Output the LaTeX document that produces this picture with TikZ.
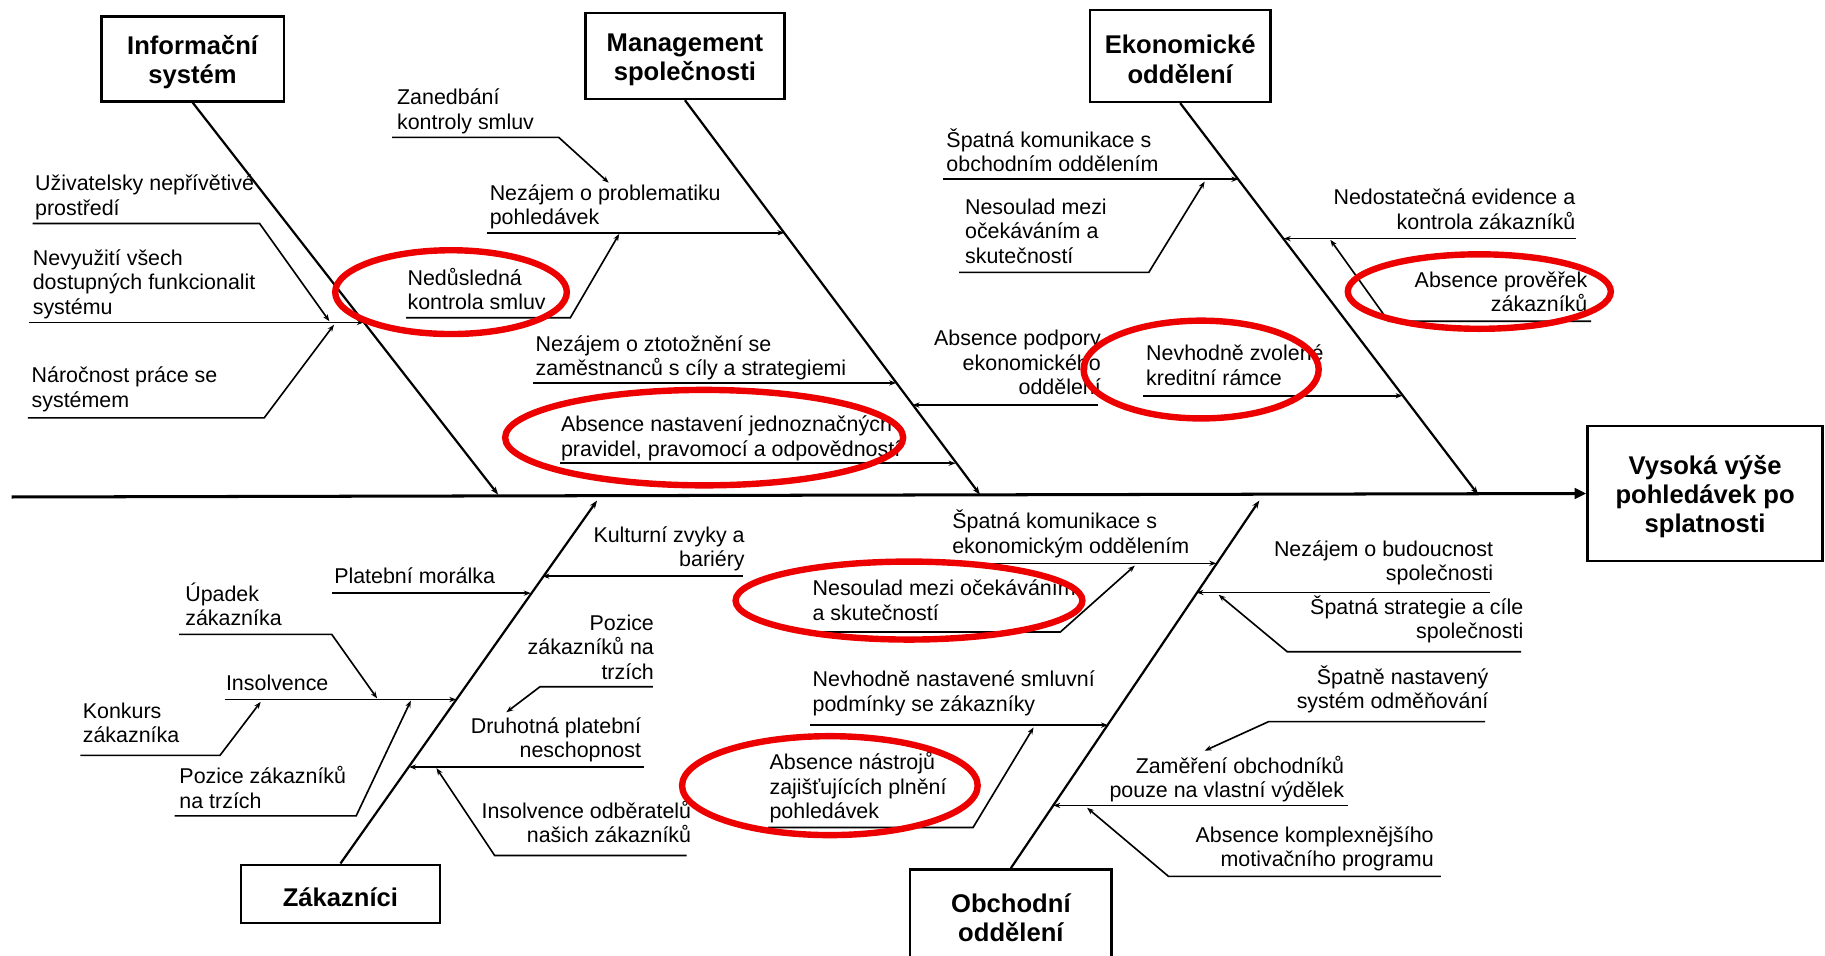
\documentclass[tikz,border=0pt]{standalone}
\usepackage{fontspec}
\setmainfont{Liberation Sans}
\usetikzlibrary{arrows.meta,calc}
\definecolor{hred}{RGB}{236,0,0}
% taller first line so box titles sit a little lower
\newcommand\catstrut{\rule{0pt}{22pt}}

\begin{document}
\begin{tikzpicture}[x=1pt,y=-1pt,
  cause/.style={font=\fontsize{18.4}{21}\selectfont, inner sep=0pt, align=left},
  causeL/.style={cause, anchor=base west},
  causeR/.style={cause, align=right, anchor=base east},
  catbox/.style={draw, line width=2.2pt, font=\fontsize{22}{25}\selectfont\bfseries,
                 align=center, inner sep=0pt},
  bone/.style={line width=1.9pt, -{Stealth[length=7pt,width=5pt]}},
  twig/.style={line width=1.4pt, -{Stealth[length=6pt,width=4.5pt]}},
  hilite/.style={draw=hred, line width=5.5pt}
]
\useasboundingbox (0,0) rectangle (1568,821);
\clip (0,0) rectangle (1568,821);
\fill[white] (0,0) rectangle (1568,821);

% ---------- category boxes and the effect ----------
\node[catbox, minimum width=157pt, minimum height=73pt] (info) at (165.5,50.5) {\catstrut Informační\\systém};
\node[catbox, minimum width=171pt, minimum height=74pt] (mgmt) at (588.5,48) {\catstrut Management\\společnosti};
\node[catbox, minimum width=155pt, minimum height=79pt] (eko)  at (1014,48) {\catstrut Ekonomické\\oddělení};
\node[catbox, minimum width=171pt, minimum height=50pt] (zak)  at (292.5,768) {\catstrut Zákazníci};
\node[catbox, minimum width=173pt, minimum height=77pt] (obch) at (868.5,785.5) {\catstrut Obchodní\\oddělení};
\node[catbox, minimum width=202pt, minimum height=116pt] (effect) at (1465,424) {\catstrut Vysoká výše\\pohledávek po\\splatnosti};

% ---------- spine and main bones ----------
\coordinate (spineStart) at (10,427);
\draw[line width=2.6pt, -{Triangle[length=10pt,width=9pt]}] (spineStart) -- (effect.west);

\coordinate (infoEnd) at (428,425);
\coordinate (mgmtEnd) at (842,425);
\coordinate (ekoEnd)  at (1270,425);
\coordinate (zakEnd)  at (513,430);
\coordinate (obchEnd) at (1082,430);
\draw[bone] (info.south) -- (infoEnd);
\draw[bone] (mgmt.south) -- (mgmtEnd);
\draw[bone] (eko.south)  -- (ekoEnd);
\draw[bone] (zak.north)  -- (zakEnd);
\draw[bone] (obch.north) -- (obchEnd);

% ---------- Informační systém ----------
\node[causeL] (c1) at (30,185) {Uživatelsky nepřívětivé\\prostředí};
\coordinate (c1s) at (28,192); \coordinate (c1e) at (283,276);
\draw[twig] (c1s) -- (223,192) -- (c1e);

\node[causeL] (c2) at (28,270) {Nevyužití všech\\dostupných funkcionalit\\systému};
\coordinate (c2s) at (25,277); \coordinate (c2e) at (312.6,277);
\draw[twig] (c2s) -- (c2e);

\node[causeL] (c3) at (27,350) {Náročnost práce se\\systémem};
\coordinate (c3s) at (24,359); \coordinate (c3e) at (287,279);
\draw[twig] (c3s) -- (227,359) -- (c3e);

% ---------- Management společnosti ----------
\node[causeL] (c4) at (341,111) {Zanedbání\\kontroly smluv};
\coordinate (c4s) at (337,118); \coordinate (c4e) at (523,157);
\draw[twig] (c4s) -- (480,118) -- (c4e);

\node[causeL] (c5) at (420.6,193) {Nezájem o problematiku\\pohledávek};
\coordinate (c5s) at (418,200); \coordinate (c5e) at (674,200);
\draw[twig] (c5s) -- (c5e);

\node[causeL] (c6) at (350,266) {Nedůsledná\\kontrola smluv};
\coordinate (c6s) at (349,273); \coordinate (c6e) at (532,201);
\draw[twig] (c6s) -- (490,273) -- (c6e);

\node[causeL] (c7) at (460,323) {Nezájem o ztotožnění se\\zaměstnanců s cíly a strategiemi};
\coordinate (c7s) at (458,329); \coordinate (c7e) at (770,329);
\draw[twig] (c7s) -- (c7e);

\node[causeL] (c8) at (481.8,392) {Absence nastavení jednoznačných\\pravidel, pravomocí a odpovědností};
\coordinate (c8s) at (481,398); \coordinate (c8e) at (821,398);
\draw[twig] (c8s) -- (c8e);

% ---------- Ekonomické oddělení ----------
\node[causeL] (c9) at (813,147.5) {Špatná komunikace s\\obchodním oddělením};
\coordinate (c9s) at (810,154); \coordinate (c9e) at (1064,154);
\draw[twig] (c9s) -- (c9e);

\node[causeL] (c10) at (829,226) {Nesoulad mezi\\očekáváním a\\skutečností};
\coordinate (c10s) at (824,234); \coordinate (c10e) at (1035,156);
\draw[twig] (c10s) -- (987,234) -- (c10e);

\node[causeR] (c11) at (946,339) {Absence podpory\\ekonomického\\oddělení};
\coordinate (c11s) at (943,348); \coordinate (c11e) at (784,348);
\draw[twig] (c11s) -- (c11e);

\node[causeL] (c12) at (984.6,331) {Nevhodně zvolené\\kreditní rámce};
\coordinate (c12s) at (982,340); \coordinate (c12e) at (1205,340);
\draw[twig] (c12s) -- (c12e);

\node[causeR] (c13) at (1353.6,197) {Nedostatečná evidence a\\kontrola zákazníků};
\coordinate (c13s) at (1354,205); \coordinate (c13e) at (1103,205);
\draw[twig] (c13s) -- (c13e);

\node[causeR] (c14) at (1364,268) {Absence prověřek\\zákazníků};
\coordinate (c14s) at (1367,276); \coordinate (c14e) at (1143,206);
\draw[twig] (c14s) -- (1193,276) -- (c14e);

% ---------- Zákazníci ----------
\node[causeR] (c15) at (640,487) {Kulturní zvyky a\\bariéry};
\coordinate (c15s) at (638,495); \coordinate (c15e) at (466,495);
\draw[twig] (c15s) -- (c15e);

\node[causeL] (c16) at (287,501.5) {Platební morálka};
\coordinate (c16s) at (285,509.6); \coordinate (c16e) at (456,509.6);
\draw[twig] (c16s) -- (c16e);

\node[causeL] (c17) at (159,537.5) {Úpadek\\zákazníka};
\coordinate (c17s) at (154,545); \coordinate (c17e) at (324,600);
\draw[twig] (c17s) -- (285,545) -- (c17e);

\node[causeL] (c18) at (194,593) {Insolvence};
\coordinate (c18s) at (193,601); \coordinate (c18e) at (392,601);
\draw[twig] (c18s) -- (c18e);

\node[causeL] (c19) at (71,638) {Konkurs\\zákazníka};
\coordinate (c19s) at (69,649); \coordinate (c19e) at (224,603);
\draw[twig] (c19s) -- (189,649) -- (c19e);

\node[causeL] (c20) at (154,694.5) {Pozice zákazníků\\na trzích};
\coordinate (c20s) at (150,701); \coordinate (c20e) at (353,602);
\draw[twig] (c20s) -- (306,701) -- (c20e);

\node[causeR] (c21) at (562,583.5) {Pozice\\zákazníků na\\trzích};
\coordinate (c21s) at (561,590); \coordinate (c21e) at (435,612);
\draw[twig] (c21s) -- (464,590) -- (c21e);

\node[causeR] (c22) at (551,651) {Druhotná platební\\neschopnost};
\coordinate (c22s) at (553,659); \coordinate (c22e) at (351.5,659);
\draw[twig] (c22s) -- (c22e);

\node[causeR] (c23) at (594,724) {Insolvence odběratelů\\našich zákazníků};
\coordinate (c23s) at (590,735); \coordinate (c23e) at (375,660);
\draw[twig] (c23s) -- (425,735) -- (c23e);

% ---------- Obchodní oddělení ----------
\node[causeL] (c24) at (818,475.5) {Špatná komunikace s\\ekonomickým oddělením};
\coordinate (c24s) at (812,484); \coordinate (c24e) at (1045,484);
\draw[twig] (c24s) -- (c24e);

\node[causeL] (c25) at (698,533) {Nesoulad mezi očekáváním\\a skutečností};
\coordinate (c25s) at (698,543); \coordinate (c25e) at (975,486);
\draw[twig] (c25s) -- (911,543) -- (c25e);

\node[causeL] (c26) at (698,611) {Nevhodně nastavené smluvní\\podmínky se zákazníky};
\coordinate (c26s) at (696,623); \coordinate (c26e) at (952,623);
\draw[twig] (c26s) -- (c26e);

\node[causeL] (c27) at (661,703.5) {Absence nástrojů\\zajišťujících plnění\\pohledávek};
\coordinate (c27s) at (660,711); \coordinate (c27e) at (888,625);
\draw[twig] (c27s) -- (836,711) -- (c27e);

\node[causeR] (c28) at (1283,499) {Nezájem o budoucnost\\společnosti};
\coordinate (c28s) at (1280,509); \coordinate (c28e) at (1028,509);
\draw[twig] (c28s) -- (c28e);

\node[causeR] (c29) at (1309,549) {Špatná strategie a cíle\\společnosti};
\coordinate (c29s) at (1307,560); \coordinate (c29e) at (1047,511);
\draw[twig] (c29s) -- (1106,560) -- (c29e);

\node[causeR] (c30) at (1279,609) {Špatně nastavený\\systém odměňování};
\coordinate (c30s) at (1276,620); \coordinate (c30e) at (1035,645);
\draw[twig] (c30s) -- (1090,620) -- (c30e);

\node[causeR] (c31) at (1155,685.5) {Zaměření obchodníků\\pouze na vlastní výdělek};
\coordinate (c31s) at (1158,692); \coordinate (c31e) at (905,692);
\draw[twig] (c31s) -- (c31e);

\node[causeR] (c32) at (1232,744.5) {Absence komplexnějšího\\motivačního programu};
\coordinate (c32s) at (1238,753); \coordinate (c32e) at (934,694);
\draw[twig] (c32s) -- (1004,753) -- (c32e);

% ---------- red highlight rings ----------
\draw[hilite] (387.5,251) ellipse [x radius=99.5, y radius=36];
\draw[hilite] (605,376)   ellipse [x radius=171, y radius=41];
\draw[hilite] (1032,317.5) ellipse [x radius=101, y radius=42];
\draw[hilite] (1271,250.5) ellipse [x radius=113, y radius=32];
\draw[hilite] (781,516)   ellipse [x radius=149, y radius=33.5];
\draw[hilite] (713,675)   ellipse [x radius=127, y radius=42.5];
\end{tikzpicture}
\end{document}
